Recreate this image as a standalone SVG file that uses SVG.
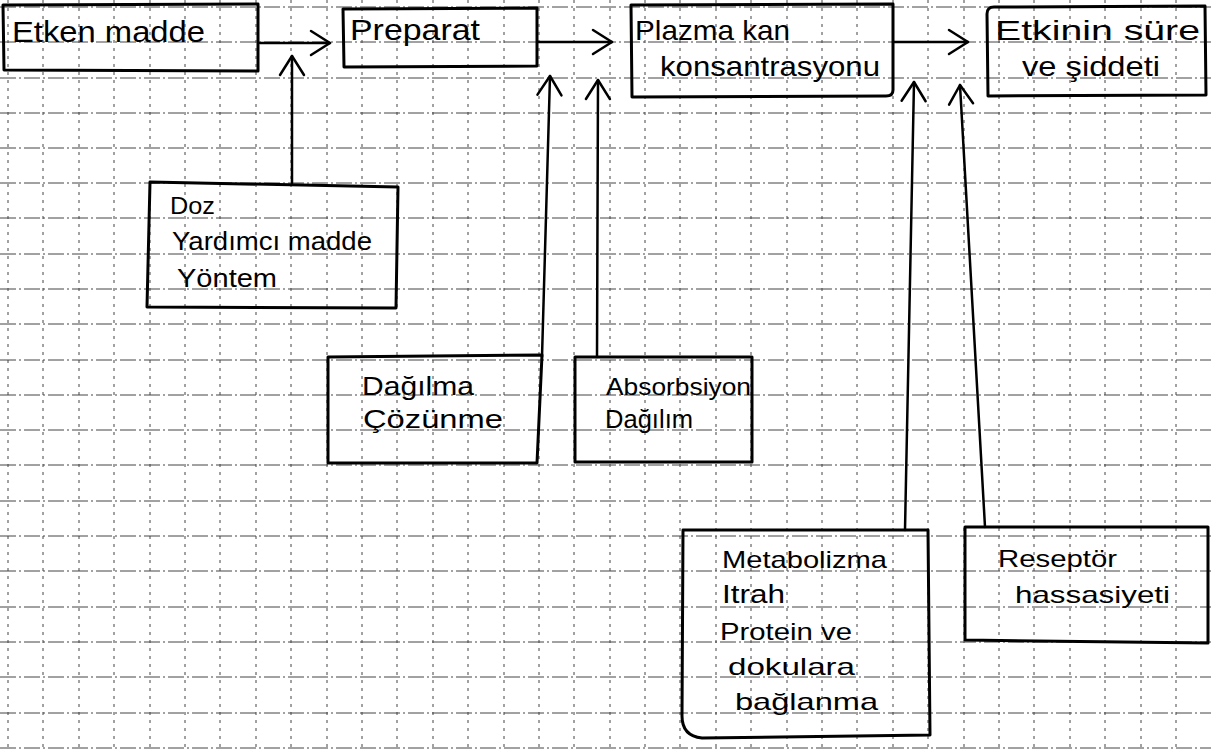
<svg xmlns="http://www.w3.org/2000/svg" width="1211" height="751" viewBox="0 0 1211 751">
  <style>
    .gh { stroke:#444; stroke-width:1; stroke-dasharray:16 3 2 3; fill:none; }
    .gv { stroke:#444; stroke-width:1; stroke-dasharray:3 5; fill:none; }
    .box { fill:none; stroke:#000; stroke-width:3; stroke-linejoin:round; }
    .conn { fill:none; stroke:#000; stroke-width:2.5; stroke-linecap:round; }
    .t { font-family:"Liberation Sans","DejaVu Sans",sans-serif; fill:#000; }
    .t30 { font-size:30px; }
    .t28 { font-size:28px; }
    .t26 { font-size:26px; }
    .t24 { font-size:24px; }
  </style>
  <defs>
    <marker id="ah" viewBox="-24 -15 28 30" refX="0" refY="0" markerWidth="28" markerHeight="30" markerUnits="userSpaceOnUse" orient="auto">
      <path d="M-19,-12 L0,0 L-19,12" fill="none" stroke="#000" stroke-width="2.5" stroke-linecap="round" stroke-linejoin="round"/>
    </marker>
  </defs>
  <rect x="0" y="0" width="1211" height="751" fill="#fff"/>
  <g id="grid">
    <path class="gh" d="M0,7H1211M0,42H1211M0,78H1211M0,113H1211M0,148H1211M0,183H1211M0,218H1211M0,254H1211M0,289H1211M0,324H1211M0,360H1211M0,395H1211M0,430H1211M0,465H1211M0,501H1211M0,536H1211M0,571H1211M0,607H1211M0,642H1211M0,677H1211M0,713H1211M0,748H1211"/>
    <path class="gv" d="M8,0V751M43,0V751M79,0V751M114,0V751M150,0V751M185,0V751M220,0V751M256,0V751M291,0V751M327,0V751M362,0V751M397,0V751M433,0V751M468,0V751M504,0V751M539,0V751M574,0V751M610,0V751M645,0V751M680,0V751M716,0V751M751,0V751M787,0V751M822,0V751M857,0V751M893,0V751M928,0V751M964,0V751M999,0V751M1034,0V751M1070,0V751M1105,0V751M1141,0V751M1176,0V751"/>
  </g>
  <g id="connectors">
    <path class="conn" d="M260,43 L330,43" marker-end="url(#ah)"/>
    <path class="conn" d="M538,42 L612,42" marker-end="url(#ah)"/>
    <path class="conn" d="M893,42 L968,42" marker-end="url(#ah)"/>
    <path class="conn" d="M292,183 L292,56" marker-end="url(#ah)"/>
    <path class="conn" d="M542,357 L550,76" marker-end="url(#ah)"/>
    <path class="conn" d="M597,357 L598,80" marker-end="url(#ah)"/>
    <path class="conn" d="M905,530 L914,82" marker-end="url(#ah)"/>
    <path class="conn" d="M985,527 L960,85" marker-end="url(#ah)"/>
  </g>
  <g id="etken-madde">
    <path class="box" d="M3,5 L258,4 L258,71 L4,70 Z"/>
    <text class="t t30" x="12" y="42" textLength="193" lengthAdjust="spacingAndGlyphs">Etken madde</text>
  </g>
  <g id="preparat">
    <path class="box" d="M343,9 L537,8 L537,66 L344,67 Z"/>
    <text class="t t30" x="350" y="40" textLength="130" lengthAdjust="spacingAndGlyphs">Preparat</text>
  </g>
  <g id="plazma">
    <path class="box" d="M631,5 L893,4 L893,90 Q893,96 886,96 L632,97 Z"/>
    <text class="t t28" x="635" y="40" textLength="155" lengthAdjust="spacingAndGlyphs">Plazma kan</text>
    <text class="t t28" x="660" y="76" textLength="220" lengthAdjust="spacingAndGlyphs">konsantrasyonu</text>
  </g>
  <g id="etkinin">
    <path class="box" d="M994,7 L1205,6 L1206,95 L988,96 L987,14 Q987,7 994,7 Z"/>
    <text class="t t28" x="995" y="40" textLength="205" lengthAdjust="spacingAndGlyphs">Etkinin süre</text>
    <text class="t t28" x="1022" y="76" textLength="138" lengthAdjust="spacingAndGlyphs">ve şiddeti</text>
  </g>
  <g id="doz">
    <path class="box" d="M150,182 L398,187 L396,308 L147,307 Z"/>
    <text class="t t24" x="170" y="214" textLength="45" lengthAdjust="spacingAndGlyphs">Doz</text>
    <text class="t t26" x="172" y="250" textLength="200" lengthAdjust="spacingAndGlyphs">Yardımcı madde</text>
    <text class="t t26" x="177" y="287" textLength="100" lengthAdjust="spacingAndGlyphs">Yöntem</text>
  </g>
  <g id="dagilma">
    <path class="box" d="M328,357 L542,355 L537,463 L328,463 Z"/>
    <text class="t t26" x="362" y="395" textLength="112" lengthAdjust="spacingAndGlyphs">Dağılma</text>
    <text class="t t26" x="363" y="428" textLength="140" lengthAdjust="spacingAndGlyphs">Çözünme</text>
  </g>
  <g id="absorbsiyon">
    <path class="box" d="M575,357 L752,357 L752,462 L575,462 Z"/>
    <text class="t t24" x="606" y="395" textLength="145" lengthAdjust="spacingAndGlyphs">Absorbsiyon</text>
    <text class="t t26" x="605" y="428" textLength="88" lengthAdjust="spacingAndGlyphs">Dağılım</text>
  </g>
  <g id="metabolizma">
    <path class="box" d="M683,530 L928,530 L930,735 L702,738 Q682,736 682,716 Z"/>
    <text class="t t24" x="722" y="568" textLength="165" lengthAdjust="spacingAndGlyphs">Metabolizma</text>
    <text class="t t26" x="722" y="603" textLength="63" lengthAdjust="spacingAndGlyphs">Itrah</text>
    <text class="t t24" x="720" y="640" textLength="132" lengthAdjust="spacingAndGlyphs">Protein ve</text>
    <text class="t t24" x="728" y="675" textLength="127" lengthAdjust="spacingAndGlyphs">dokulara</text>
    <text class="t t24" x="735" y="710" textLength="143" lengthAdjust="spacingAndGlyphs">bağlanma</text>
  </g>
  <g id="reseptor">
    <path class="box" d="M965,527 L1208,527 L1208,643 L965,640 Z"/>
    <text class="t t24" x="998" y="567" textLength="119" lengthAdjust="spacingAndGlyphs">Reseptör</text>
    <text class="t t24" x="1015" y="603" textLength="155" lengthAdjust="spacingAndGlyphs">hassasiyeti</text>
  </g>
</svg>
